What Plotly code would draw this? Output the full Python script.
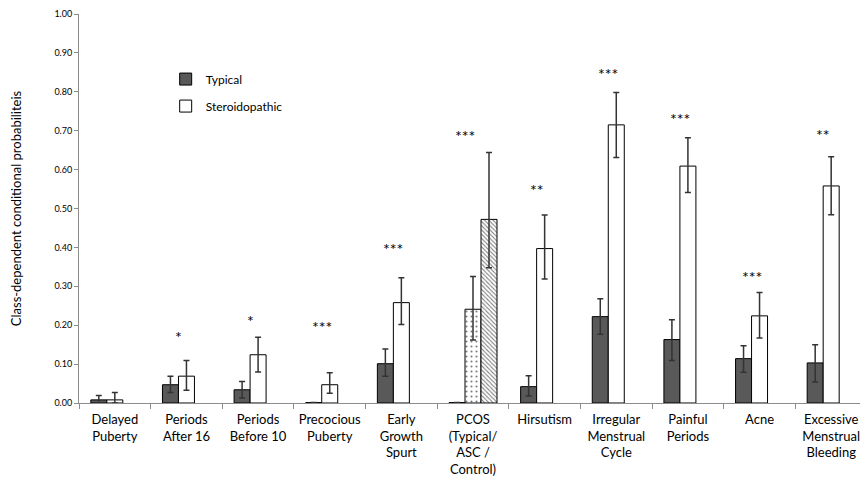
import plotly.graph_objects as go

categories = ["Delayed<br>Puberty", "Periods<br>After 16", "Periods<br>Before 10",
              "Precocious<br>Puberty", "Early<br>Growth<br>Spurt",
              "PCOS<br>(Typical/<br>ASC /<br>Control)", "Hirsutism",
              "Irregular<br>Menstrual<br>Cycle", "Painful<br>Periods", "Acne",
              "Excessive<br>Menstrual<br>Bleeding"]

typical = [0.008, 0.047, 0.034, 0.001, 0.101, 0.001, 0.042, 0.222, 0.163, 0.114, 0.103]
typical_hi = [0.019, 0.069, 0.055, 0.001, 0.139, 0.001, 0.070, 0.268, 0.214, 0.147, 0.150]
typical_lo = [0.000, 0.027, 0.013, 0.001, 0.069, 0.001, 0.018, 0.177, 0.109, 0.079, 0.054]

steroid = [0.008, 0.069, 0.124, 0.047, 0.258, 0.241, 0.397, 0.715, 0.609, 0.224, 0.558]
steroid_hi = [0.027, 0.109, 0.169, 0.078, 0.322, 0.325, 0.483, 0.798, 0.682, 0.284, 0.633]
steroid_lo = [0.000, 0.033, 0.080, 0.025, 0.202, 0.162, 0.319, 0.631, 0.541, 0.167, 0.484]

# third bar only exists for PCOS (control group)
control = [None, None, None, None, None, 0.472, None, None, None, None, None]
control_hi = [0, 0, 0, 0, 0, 0.644, 0, 0, 0, 0, 0]
control_lo = [0, 0, 0, 0, 0, 0.348, 0, 0, 0, 0, 0]

stars = ["", "*", "*", "***", "***", "***", "**", "***", "***", "***", "**"]
star_y = [0, 0.172, 0.213, 0.197, 0.397, 0.687, 0.550, 0.847, 0.732, 0.324, 0.691]


def up(v, hi):
    return [(h - x) if x is not None else 0 for x, h in zip(v, hi)]


def down(v, lo):
    return [(x - l) if x is not None else 0 for x, l in zip(v, lo)]


err_style = dict(type="data", color="#333333", thickness=1.5, width=3)

fig = go.Figure()
fig.add_trace(go.Bar(
    x=categories, y=typical, name="Typical", legendgroup="a",
    marker=dict(color="#595959", line=dict(color="#000000", width=1)),
    error_y=dict(array=up(typical, typical_hi), arrayminus=down(typical, typical_lo),
                 symmetric=False, **err_style)))
fig.add_trace(go.Bar(
    x=categories, y=steroid, name="Steroidopathic", legendgroup="b",
    marker=dict(color="#ffffff", line=dict(color="#000000", width=1),
                pattern=dict(shape=["", "", "", "", "", ".", "", "", "", "", ""],
                             fgcolor="#000000", bgcolor="#ffffff", size=5, solidity=0.15)),
    error_y=dict(array=up(steroid, steroid_hi), arrayminus=down(steroid, steroid_lo),
                 symmetric=False, **err_style)))
fig.add_trace(go.Bar(
    x=categories, y=control, name="Control", showlegend=False, legendgroup="c",
    marker=dict(color="#ffffff", line=dict(color="#000000", width=1),
                pattern=dict(shape="\\", fgcolor="#000000", bgcolor="#ffffff",
                             size=3, solidity=0.35)),
    error_y=dict(array=up(control, control_hi), arrayminus=down(control, control_lo),
                 symmetric=False, **err_style)))

for c, s, y in zip(categories, stars, star_y):
    if s:
        fig.add_annotation(x=c, y=y, text=s, showarrow=False, xshift=-8,
                           font=dict(size=16, color="#000000"))

# the page adds an 8px body margin, so the figure is a bit smaller than the window
fig.update_layout(
    width=860, height=481,
    margin=dict(l=71, r=1, t=6, b=86),
    paper_bgcolor="white", plot_bgcolor="white",
    font=dict(family="Lato, Open Sans, sans-serif", color="#000000"),
    barmode="group", bargap=0.33, bargroupgap=0,
    legend=dict(x=0.11, y=0.87, xanchor="left", yanchor="top",
                font=dict(size=12), bgcolor="rgba(0,0,0,0)",
                tracegroupgap=8, itemwidth=30),
    xaxis=dict(showline=True, linecolor="#8c8c8c", linewidth=1, automargin=False,
               ticks="outside", tickson="boundaries", ticklen=5, tickcolor="#8c8c8c",
               tickfont=dict(size=13), ticklabelstandoff=4, showgrid=False),
    yaxis=dict(range=[0, 1.0], dtick=0.1, tickformat=".2f", showline=True,
               automargin=False,
               linecolor="#8c8c8c", linewidth=1, ticks="outside", ticklen=4,
               tickcolor="#8c8c8c", tickfont=dict(size=9), showgrid=False,
               zeroline=False,
               title=dict(text="Class-dependent conditional probabiliteis",
                          font=dict(size=13), standoff=34)),
)

fig.write_html("out.html")
